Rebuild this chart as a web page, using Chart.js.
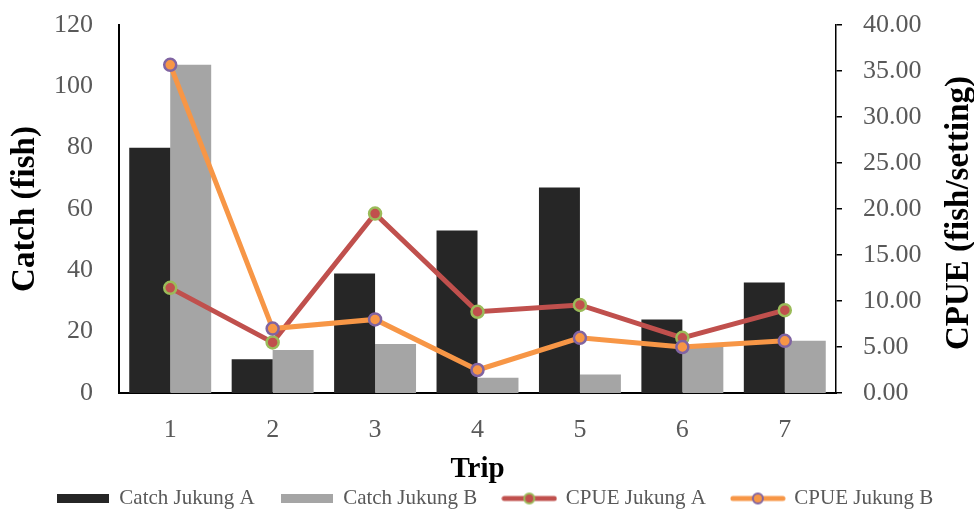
<!DOCTYPE html>
<html>
<head>
<meta charset="utf-8">
<script src="https://cdn.jsdelivr.net/npm/chart.js@4/dist/chart.umd.min.js"></script>
<style>
  html, body { margin: 0; padding: 0; background: #ffffff; }
  #wrap { width: 974px; height: 510px; }
</style>
</head>
<body>
<div id="wrap"><canvas id="chart" width="974" height="510"></canvas></div>
<script>
// Catch and CPUE per trip for the two jukung boats
const trips = ['1', '2', '3', '4', '5', '6', '7'];
const catchJukungA = [80, 11, 39, 53, 67, 24, 36];
const catchJukungB = [107, 14, 16, 5, 6, 15, 17];
const cpueJukungA = [11.43, 5.50, 19.50, 8.83, 9.57, 6.00, 9.00];
const cpueJukungB = [35.67, 7.00, 8.00, 2.50, 6.00, 5.00, 5.67];
const catchTicks = [0, 20, 40, 60, 80, 100, 120];
const cpueTicks = [0, 5, 10, 15, 20, 25, 30, 35, 40];

const FONT = '"Liberation Serif", "Times New Roman", serif';
const TICK_COLOR = '#595959';

// legend swatches: a wide block for the bars, a line with a marker for the CPUE series
function barSwatch(color) {
  const c = document.createElement('canvas');
  c.width = 52; c.height = 9;
  const g = c.getContext('2d');
  g.fillStyle = color;
  g.fillRect(0, 0, 52, 9);
  return c;
}
function lineSwatch(lineColor, markerBorder) {
  const c = document.createElement('canvas');
  c.width = 56; c.height = 16;
  const g = c.getContext('2d');
  g.strokeStyle = lineColor;
  g.lineWidth = 5;
  g.lineCap = 'round';
  g.beginPath(); g.moveTo(3, 8); g.lineTo(53, 8); g.stroke();
  g.beginPath(); g.arc(28, 8, 5, 0, Math.PI * 2);
  g.fillStyle = lineColor; g.fill();
  g.lineWidth = 2; g.strokeStyle = markerBorder; g.stroke();
  return c;
}
const swatches = [
  barSwatch('#262626'),
  barSwatch('#a5a5a5'),
  lineSwatch('#c0504d', '#9bbb59'),
  lineSwatch('#f79646', '#8064a2')
];

// right axis title reads bottom-to-top, like the left one
const rightTitle = {
  id: 'rightTitle',
  afterDraw(chart) {
    const ctx = chart.ctx;
    ctx.save();
    ctx.translate(959, (chart.chartArea.top + chart.chartArea.bottom) / 2 + 4);
    ctx.rotate(-Math.PI / 2);
    ctx.font = 'bold 33px ' + FONT;
    ctx.fillStyle = '#000000';
    ctx.textAlign = 'center';
    ctx.textBaseline = 'middle';
    ctx.fillText('CPUE (fish/setting)', 0, 0);
    ctx.restore();
  }
};

// vertical axes: keep the plot edges where the layout puts them
function fitVertical(width) {
  return scale => {
    scale.width = width;
    scale.paddingTop = 0;
    scale.paddingBottom = 0;
  };
}

new Chart(document.getElementById('chart'), {
  data: {
    labels: trips,
    datasets: [
      {
        type: 'bar', label: 'Catch Jukung A', data: catchJukungA, yAxisID: 'y',
        backgroundColor: '#262626', order: 2,
        categoryPercentage: 0.8, barPercentage: 1.0
      },
      {
        type: 'bar', label: 'Catch Jukung B', data: catchJukungB, yAxisID: 'y',
        backgroundColor: '#a5a5a5', order: 3,
        categoryPercentage: 0.8, barPercentage: 1.0
      },
      {
        type: 'line', label: 'CPUE Jukung A', data: cpueJukungA, yAxisID: 'y1',
        borderColor: '#c0504d', borderWidth: 5, backgroundColor: '#c0504d',
        pointBackgroundColor: '#c0504d', pointBorderColor: '#9bbb59',
        pointBorderWidth: 2.5, pointRadius: 6, tension: 0, order: 1
      },
      {
        type: 'line', label: 'CPUE Jukung B', data: cpueJukungB, yAxisID: 'y1',
        borderColor: '#f79646', borderWidth: 5, backgroundColor: '#f79646',
        pointBackgroundColor: '#f79646', pointBorderColor: '#8064a2',
        pointBorderWidth: 2.5, pointRadius: 6, tension: 0, order: 0
      }
    ]
  },
  options: {
    responsive: false,
    animation: false,
    layout: { padding: { top: 25, bottom: -9, left: 16, right: 0 } },
    plugins: {
      tooltip: { enabled: false },
      legend: {
        position: 'bottom',
        labels: {
          usePointStyle: true,
          pointStyleWidth: 52,
          padding: 26,
          color: TICK_COLOR,
          font: { family: FONT, size: 21 },
          sort: (a, b) => a.datasetIndex - b.datasetIndex,
          generateLabels(chart) {
            const items = Chart.defaults.plugins.legend.labels.generateLabels(chart);
            items.forEach(it => { it.pointStyle = swatches[it.datasetIndex]; });
            return items;
          }
        }
      }
    },
    scales: {
      x: {
        offset: true,
        grid: { display: false, drawTicks: false },
        border: { display: true, color: '#000000', width: 2 },
        ticks: { color: TICK_COLOR, font: { family: FONT, size: 26 }, padding: 22 },
        title: {
          display: true, text: 'Trip', color: '#000000',
          font: { family: FONT, size: 29, weight: 'bold', lineHeight: 1 },
          padding: { top: 0, bottom: -22 }
        },
        afterFit(scale) { scale.height = 69; }
      },
      y: {
        position: 'left',
        min: 0, max: 120,
        afterBuildTicks(scale) { scale.ticks = catchTicks.map(v => ({ value: v })); },
        grid: { display: false, drawTicks: false },
        border: { display: true, color: '#000000', width: 2 },
        ticks: { color: TICK_COLOR, font: { family: FONT, size: 26 }, padding: 26 },
        title: {
          display: true, text: 'Catch (fish)', color: '#000000',
          font: { family: FONT, size: 33, weight: 'bold', lineHeight: 1 },
          padding: { top: -7, bottom: 0 }
        },
        afterFit: fitVertical(103)
      },
      y1: {
        position: 'right',
        min: 0, max: 40,
        afterBuildTicks(scale) { scale.ticks = cpueTicks.map(v => ({ value: v })); },
        grid: { display: true, drawOnChartArea: false, drawTicks: true, tickLength: 6, color: '#000000', lineWidth: 1.5 },
        border: { display: true, color: '#000000', width: 1.5 },
        ticks: {
          color: TICK_COLOR, font: { family: FONT, size: 26 }, padding: 21,
          callback: v => Number(v).toFixed(2)
        },
        afterFit: fitVertical(138)
      }
    }
  },
  plugins: [rightTitle]
});
</script>
</body>
</html>
